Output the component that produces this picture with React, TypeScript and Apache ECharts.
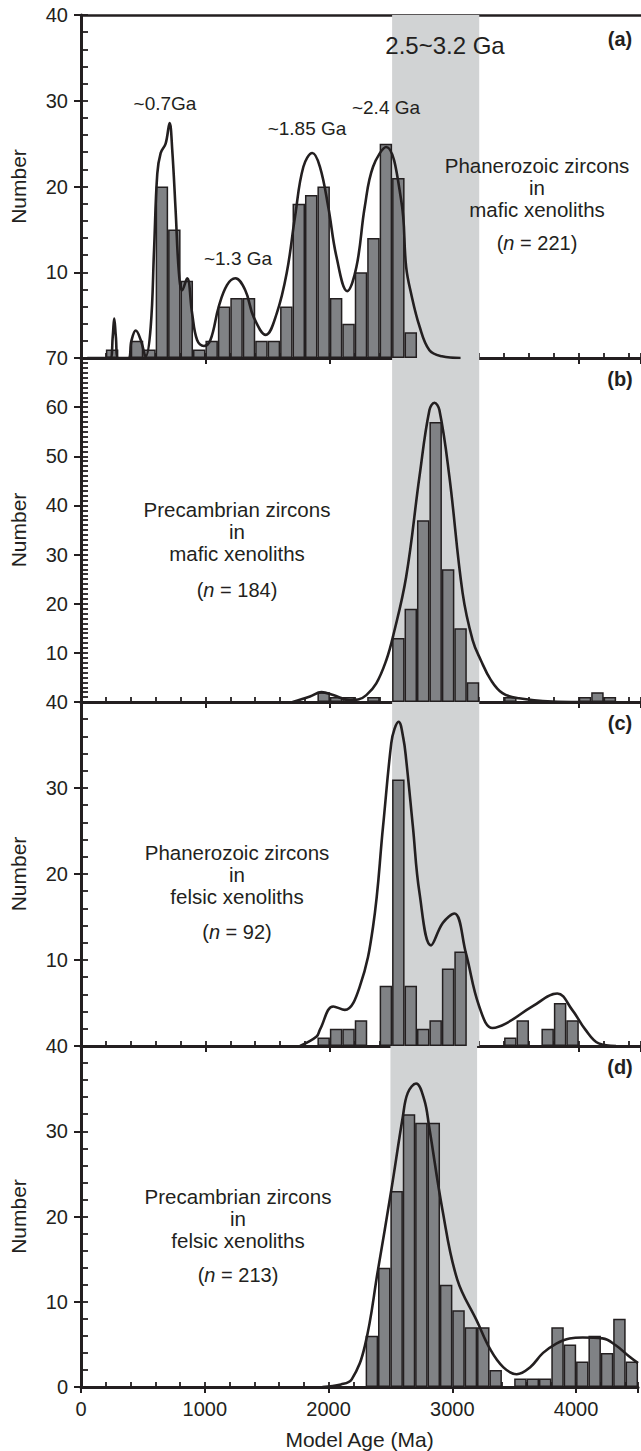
import React, { useEffect, useRef } from "react";
import * as echarts from "echarts";

const INK = "#231f20";
const BAR_FILL = "#808285";
const BAND_FILL = "#d1d3d4";
const FONT = '"Liberation Sans", Arial, Helvetica, sans-serif';

const X_MAX = 4500;
const BIN = 100;
const BAND = [2500, 3200];
const X_LABEL_STEP = 1000;
const X_MINOR_STEP = 200;

// histogram bins: [bin start (Ma), count]
const binsA = [[200, 1], [400, 2], [500, 1], [600, 20], [700, 15], [800, 9], [900, 1], [1000, 2], [1100, 6], [1200, 7], [1300, 7], [1400, 2], [1500, 2], [1600, 6], [1700, 18], [1800, 19], [1900, 20], [2000, 7], [2100, 4], [2200, 10], [2300, 14], [2400, 25], [2500, 21], [2600, 3]];
const binsB = [[1900, 2], [2000, 1], [2100, 1], [2300, 1], [2500, 13], [2600, 19], [2700, 37], [2800, 57], [2900, 27], [3000, 15], [3100, 4], [3400, 1], [4000, 1], [4100, 2], [4200, 1]];
const binsC = [[1900, 1], [2000, 2], [2100, 2], [2200, 3], [2400, 7], [2500, 31], [2600, 7], [2700, 2], [2800, 3], [2900, 9], [3000, 11], [3400, 1], [3500, 3], [3700, 2], [3800, 5], [3900, 3]];
const binsD = [[2300, 6], [2400, 14], [2500, 23], [2600, 32], [2700, 31], [2800, 31], [2900, 12], [3000, 9], [3100, 7], [3200, 7], [3300, 2], [3500, 1], [3600, 1], [3700, 1], [3800, 7], [3900, 5], [4000, 3], [4100, 6], [4200, 4], [4300, 8], [4400, 3]];

// probability density curves: [age (Ma), value]
const curveA = [[50, 0], [235, 0], [255, 2.5], [267, 4.6], [280, 2.5], [299, 0], [380, 0], [405, 2], [440, 3.2], [480, 2.1], [520, 0.2], [560, 3.6], [587, 12.6], [613, 21.5], [640, 23.9], [680, 25], [712, 27.4], [733, 24.3], [760, 17.3], [787, 9.9], [813, 7.9], [853, 9.3], [893, 5.2], [933, 2.1], [987, 1.4], [1040, 2.1], [1107, 6.0], [1173, 8.5], [1240, 9.3], [1320, 7.9], [1387, 4.8], [1485, 2.7], [1573, 5.2], [1653, 9.9], [1720, 16.5], [1787, 22.3], [1859, 23.9], [1920, 22.3], [1987, 17.6], [2053, 11.8], [2139, 7.8], [2213, 10.6], [2280, 17.6], [2347, 22.3], [2453, 24.6], [2573, 18.4], [2613, 10.6], [2653, 7.5], [2720, 3.7], [2800, 0.9], [2900, 0.2], [3050, 0]];
const curveB = [[1700, 0], [1840, 1.1], [1933, 2.0], [2027, 1.4], [2160, 0.4], [2227, 0.5], [2293, 1.4], [2373, 3.8], [2453, 8.5], [2507, 13.3], [2613, 25.5], [2720, 45.9], [2800, 59.4], [2840, 60.9], [2880, 59.4], [2960, 45.9], [3067, 22.1], [3147, 12.6], [3213, 8.5], [3293, 4.5], [3387, 1.8], [3520, 0.75], [3787, 0.1], [4000, 0]];
const curveC = [[1760, 0], [1893, 1.1], [1920, 1.9], [2027, 4.6], [2120, 4.2], [2240, 6.9], [2347, 13.9], [2427, 25.5], [2493, 35.2], [2520, 36.9], [2552, 37.7], [2590, 35.8], [2613, 33.3], [2667, 25.5], [2720, 17.8], [2813, 11.7], [2907, 14.3], [3000, 15.4], [3093, 10.8], [3200, 4.6], [3307, 2.1], [3413, 2.6], [3627, 4.6], [3827, 6.1], [3947, 4.2], [4053, 1.9], [4160, 0.3], [4300, 0]];
const curveD = [[1950, 0], [2100, 0.3], [2187, 0.9], [2293, 4.8], [2400, 13.8], [2507, 23.1], [2600, 31.7], [2640, 34.5], [2707, 35.6], [2773, 33.7], [2813, 30.5], [2920, 20.8], [3040, 12.6], [3200, 7.7], [3307, 4.4], [3413, 2.3], [3520, 1.5], [3627, 2.3], [3733, 4.0], [3840, 5.1], [3947, 5.7], [4053, 5.8], [4213, 5.7], [4320, 4.9], [4427, 3.6], [4500, 2.8]];

const Y_MAX = [40, 70, 40, 40];
const Y_MINOR = [2, 1, 2, 2];
const Y_MAJOR = 10;
const PANEL_LETTERS = ["(a)", "(b)", "(c)", "(d)"];

// layout
const W = 641;
const H = 1451;
const PLOT_LEFT = 80;
const PLOT_W = 562.5;
const PANEL_TOPS = [15, 358, 702, 1046];
const PANEL_HEIGHTS = [343, 344, 344, 343];

const BINS = [binsA, binsB, binsC, binsD];
const CURVES = [curveA, curveB, curveC, curveD];

const PANEL_TEXT = [
  { x: 537, lines: ["Phanerozoic zircons", "in", "mafic xenoliths"], y: 187.5, n: "221", ny: 243 },
  { x: 237, lines: ["Precambrian zircons", "in", "mafic xenoliths"], y: 531.5, n: "184", ny: 590 },
  { x: 237, lines: ["Phanerozoic zircons", "in", "felsic xenoliths"], y: 874.5, n: "92", ny: 932 },
  { x: 238, lines: ["Precambrian zircons", "in", "felsic xenoliths"], y: 1218.5, n: "213", ny: 1275 },
];

const PEAK_LABELS = [
  { text: "~0.7Ga", x: 165, y: 103 },
  { text: "~1.3 Ga", x: 238, y: 258 },
  { text: "~1.85 Ga", x: 307, y: 128 },
  { text: "~2.4 Ga", x: 386, y: 107 },
];

function txt(text: string, x: number, y: number, size: number, extra: any = {}) {
  return {
    type: "text",
    x,
    y,
    z: 50,
    silent: true,
    style: {
      text,
      fill: INK,
      font: `${extra.weight || "normal"} ${size}px ${FONT}`,
      fontSize: size,
      fontFamily: FONT,
      fontWeight: extra.weight || "normal",
      lineHeight: extra.lineHeight,
      align: extra.align || "center",
      verticalAlign: "middle",
      textAlign: extra.align || "center",
      textVerticalAlign: "middle",
      rich: extra.rich,
    },
  };
}

export default function App() {
  const ref = useRef<HTMLDivElement>(null);

  useEffect(() => {
    if (!ref.current) return;
    const chart = echarts.init(ref.current, undefined, { renderer: "svg", width: W, height: H });

    const grid: any[] = [];
    const xAxis: any[] = [];
    const yAxis: any[] = [];
    const series: any[] = [];
    const barW = (BIN / X_MAX) * PLOT_W;

    for (let i = 0; i < 4; i++) {
      grid.push({ left: PLOT_LEFT, width: PLOT_W, top: PANEL_TOPS[i], height: PANEL_HEIGHTS[i], containLabel: false });
      // main x axis (major ticks outward)
      xAxis.push({
        type: "value",
        gridIndex: i,
        min: 0,
        max: X_MAX,
        interval: X_LABEL_STEP,
        position: "bottom",
        axisLine: { show: true, onZero: false, lineStyle: { color: INK, width: 3 } },
        axisTick: { show: true, inside: false, length: 6, lineStyle: { color: INK, width: 2 } },
        axisLabel: {
          show: i === 3,
          margin: 12,
          fontSize: 20,
          color: INK,
          fontFamily: FONT,
          formatter: (v: number) => (v % X_LABEL_STEP === 0 ? String(v) : ""),
        },
        splitLine: { show: false },
        name: i === 3 ? "Model Age (Ma)" : "",
        nameLocation: "middle",
        nameGap: 42,
        nameTextStyle: { fontSize: 21, color: INK, fontFamily: FONT },
      });
      // minor x ticks (inward)
      xAxis.push({
        type: "value",
        gridIndex: i,
        min: 0,
        max: X_MAX,
        interval: X_MINOR_STEP,
        position: "bottom",
        axisLine: { show: false, onZero: false },
        axisTick: { show: true, inside: true, length: 5, lineStyle: { color: INK, width: 1.8 } },
        axisLabel: { show: false },
        splitLine: { show: false },
      });
      // main y axis
      yAxis.push({
        type: "value",
        gridIndex: i,
        min: 0,
        max: Y_MAX[i],
        interval: Y_MAJOR,
        position: "left",
        axisLine: { show: true, onZero: false, lineStyle: { color: INK, width: 3 } },
        axisTick: { show: true, inside: false, length: 7, lineStyle: { color: INK, width: 2 } },
        axisLabel: {
          show: true,
          margin: 13,
          fontSize: 20,
          color: INK,
          fontFamily: FONT,
          formatter: (v: number) => (v === 0 && i < 3 ? "" : String(v)),
        },
        splitLine: { show: false },
        name: "Number",
        nameLocation: "middle",
        nameGap: 52,
        nameTextStyle: { fontSize: 21, color: INK, fontFamily: FONT },
      });
      // minor y ticks (inward)
      yAxis.push({
        type: "value",
        gridIndex: i,
        min: 0,
        max: Y_MAX[i],
        interval: Y_MINOR[i],
        position: "left",
        axisLine: { show: false, onZero: false },
        axisTick: { show: true, inside: true, length: 7, lineStyle: { color: INK, width: 1.8 } },
        axisLabel: { show: false },
        splitLine: { show: false },
      });

      series.push({
        type: "bar",
        xAxisIndex: 2 * i,
        yAxisIndex: 2 * i,
        data: BINS[i].map(([s, c]) => [s + BIN / 2, c]),
        barWidth: barW,
        itemStyle: { color: BAR_FILL, borderColor: INK, borderWidth: 1.5 },
        z: 2,
        markArea: {
          silent: true,
          z: 1,
          itemStyle: { color: BAND_FILL },
          data: [[{ xAxis: BAND[0] }, { xAxis: BAND[1] }]],
        },
      });
      series.push({
        type: "line",
        xAxisIndex: 2 * i,
        yAxisIndex: 2 * i,
        data: CURVES[i],
        smooth: 0.4,
        symbol: "none",
        showSymbol: false,
        lineStyle: { color: INK, width: 2.6 },
        z: 3,
      });
    }
    // top frame line of panel (a)
    xAxis.push({
      type: "value",
      gridIndex: 0,
      min: 0,
      max: X_MAX,
      position: "top",
      axisLine: { show: true, onZero: false, lineStyle: { color: INK, width: 2.7 } },
      axisTick: { show: false },
      axisLabel: { show: false },
      splitLine: { show: false },
    });

    const graphics: any[] = [];
    graphics.push(txt("2.5~3.2 Ga", 445, 45, 24));
    PEAK_LABELS.forEach((p) => graphics.push(txt(p.text, p.x, p.y, 19)));
    PANEL_TEXT.forEach((p, i) => {
      graphics.push(txt(p.lines.join("\n"), p.x, p.y, 20.5, { lineHeight: 22 }));
      graphics.push(
        txt(`({it|n} = ${p.n})`, p.x, p.ny, 20, {
          rich: { it: { fontStyle: "italic", fontSize: 20, fontFamily: FONT, fill: INK } },
        })
      );
      const letterY = i === 0 ? 39 : PANEL_TOPS[i] + 21;
      graphics.push(txt(PANEL_LETTERS[i], 620, letterY, 20, { weight: "bold" }));
    });

    chart.setOption({
      animation: false,
      backgroundColor: "#ffffff",
      textStyle: { fontFamily: FONT, color: INK },
      grid,
      xAxis,
      yAxis,
      series,
      graphic: graphics,
    });

    return () => {
      chart.dispose();
    };
  }, []);

  return (
    <div
      ref={ref}
      style={{ position: "absolute", left: 0, top: 0, width: W, height: H, background: "#fff" }}
    />
  );
}
